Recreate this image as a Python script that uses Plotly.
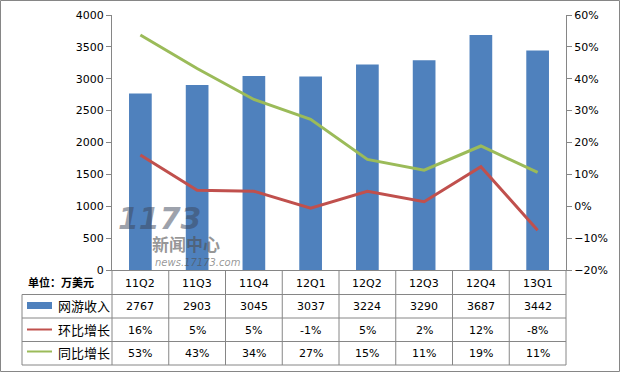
import plotly.graph_objects as go

# ---------------- data ----------------
quarters = ["11Q2", "11Q3", "11Q4", "12Q1", "12Q2", "12Q3", "12Q4", "13Q1"]
revenue = [2767, 2903, 3045, 3037, 3224, 3290, 3687, 3442]
qoq_growth = [0.161, 0.050, 0.047, -0.006, 0.047, 0.014, 0.124, -0.075]
yoy_growth = [0.537, 0.432, 0.335, 0.273, 0.147, 0.113, 0.189, 0.106]
qoq_labels = ["16%", "5%", "5%", "-1%", "5%", "2%", "12%", "-8%"]
yoy_labels = ["53%", "43%", "34%", "27%", "15%", "11%", "19%", "11%"]
series_names = ["网游收入", "环比增长", "同比增长"]
unit_label = "单位：万美元"

# ---------------- styling ----------------
W, H = 620, 372
L, R, T, B = 112, 566, 15, 270  # plot area in pixels
BLUE, RED, GREEN = "#4F81BD", "#C0504D", "#9BBB59"
GRID = "#868686"
FONT = "DejaVu Sans, Noto Sans CJK SC, sans-serif"


def px(x):
    return (x - L) / (R - L)


def py(y):
    return (B - y) / (B - T)


fig = go.Figure()
fig.add_trace(go.Bar(x=quarters, y=revenue, name=series_names[0],
                     marker=dict(color=BLUE, line=dict(width=0)), yaxis="y"))
fig.add_trace(go.Scatter(x=quarters, y=qoq_growth, name=series_names[1], mode="lines",
                         line=dict(color=RED, width=3), yaxis="y2"))
fig.add_trace(go.Scatter(x=quarters, y=yoy_growth, name=series_names[2], mode="lines",
                         line=dict(color=GREEN, width=3), yaxis="y2"))

shapes = []
annotations = []

# outer border
shapes.append(dict(type="rect", xref="paper", yref="paper",
                   x0=px(0.5), x1=px(619.5), y0=py(371.5), y1=py(0.5),
                   line=dict(color=GRID, width=1)))

# table grid
row_lines = [294.5, 318, 341.5, 365]
col_w = (R - L) / len(quarters)
for k in range(len(quarters) + 1):
    xx = L + col_w * k
    shapes.append(dict(type="line", xref="paper", yref="paper",
                       x0=px(xx), x1=px(xx), y0=py(270), y1=py(365),
                       line=dict(color=GRID, width=1)))
for yy in row_lines:
    shapes.append(dict(type="line", xref="paper", yref="paper",
                       x0=px(22), x1=px(R), y0=py(yy), y1=py(yy),
                       line=dict(color=GRID, width=1)))
shapes.append(dict(type="line", xref="paper", yref="paper",
                   x0=px(22), x1=px(22), y0=py(294.5), y1=py(365),
                   line=dict(color=GRID, width=1)))

# legend symbols in the table
shapes.append(dict(type="rect", xref="paper", yref="paper",
                   x0=px(27), x1=px(52), y0=py(309), y1=py(302),
                   fillcolor=BLUE, line=dict(width=0)))
shapes.append(dict(type="line", xref="paper", yref="paper",
                   x0=px(27), x1=px(52), y0=py(329.5), y1=py(329.5),
                   line=dict(color=RED, width=2)))
shapes.append(dict(type="line", xref="paper", yref="paper",
                   x0=px(27), x1=px(52), y0=py(351.5), y1=py(351.5),
                   line=dict(color=GREEN, width=2)))

row_centers = [306, 330, 353]
for name, yc in zip(series_names, row_centers):
    annotations.append(dict(text=name, xref="paper", yref="paper", x=px(56), y=py(yc),
                            xanchor="left", yanchor="middle", showarrow=False,
                            font=dict(size=13, color="#000", family=FONT)))
annotations.append(dict(text="<b>" + unit_label + "</b>", xref="paper", yref="paper",
                        x=px(26), y=py(283), xanchor="left", yanchor="middle",
                        showarrow=False, font=dict(size=11, color="#000", family=FONT)))

rows_text = [[str(v) for v in revenue], qoq_labels, yoy_labels]
for texts, yc in zip(rows_text, row_centers):
    for q, t in zip(quarters, texts):
        annotations.append(dict(text=t, xref="x", yref="paper", x=q, y=py(yc),
                                xanchor="center", yanchor="middle", showarrow=False,
                                font=dict(size=11, color="#000", family=FONT)))
# header category labels
for q in quarters:
    annotations.append(dict(text=q, xref="x", yref="paper", x=q, y=py(283),
                            xanchor="center", yanchor="middle", showarrow=False,
                            font=dict(size=11, color="#000", family=FONT)))

# watermark approximation (logo drawn as faint text)
annotations.append(dict(text="<b><i>1173</i></b>", xref="paper", yref="paper",
                        x=px(116), y=py(218), xanchor="left", yanchor="middle",
                        showarrow=False, font=dict(size=30, color="rgba(60,70,90,0.5)", family=FONT)))
annotations.append(dict(text="<b>新闻中心</b>", xref="paper", yref="paper",
                        x=px(150), y=py(245), xanchor="left", yanchor="middle",
                        showarrow=False, font=dict(size=17, color="rgba(80,80,80,0.6)", family=FONT)))
annotations.append(dict(text="<i>news.17173.com</i>", xref="paper", yref="paper",
                        x=px(153), y=py(262), xanchor="left", yanchor="middle",
                        showarrow=False, font=dict(size=10, color="rgba(80,80,80,0.6)", family=FONT)))

fig.update_layout(
    width=W, height=H,
    margin=dict(l=L, r=W - R, t=T, b=H - B, pad=0, autoexpand=False),
    paper_bgcolor="white", plot_bgcolor="white",
    showlegend=False,
    bargap=0.6,
    font=dict(family=FONT, size=11, color="#000"),
    xaxis=dict(type="category", showticklabels=False, ticks="", showgrid=False, automargin=False,
               showline=True, linecolor=GRID, linewidth=1, zeroline=False, fixedrange=True),
    yaxis=dict(range=[0, 4000], dtick=500, showgrid=False, zeroline=False, automargin=False,
               showline=True, linecolor=GRID, linewidth=1,
               ticks="outside", ticklen=5, tickcolor=GRID,
               tickfont=dict(size=11, family=FONT)),
    yaxis2=dict(range=[-0.2, 0.6], dtick=0.1, tickformat=".0%", overlaying="y", side="right",
                showgrid=False, zeroline=False, showline=True, linecolor=GRID, linewidth=1,
                automargin=False, ticks="outside", ticklen=5, tickcolor=GRID,
                tickfont=dict(size=11, family=FONT)),
    shapes=shapes,
    annotations=annotations,
)

fig.write_html("out.html", config=dict(displayModeBar=False),
               post_script="document.body.style.margin='0';document.body.style.overflow='hidden';")
